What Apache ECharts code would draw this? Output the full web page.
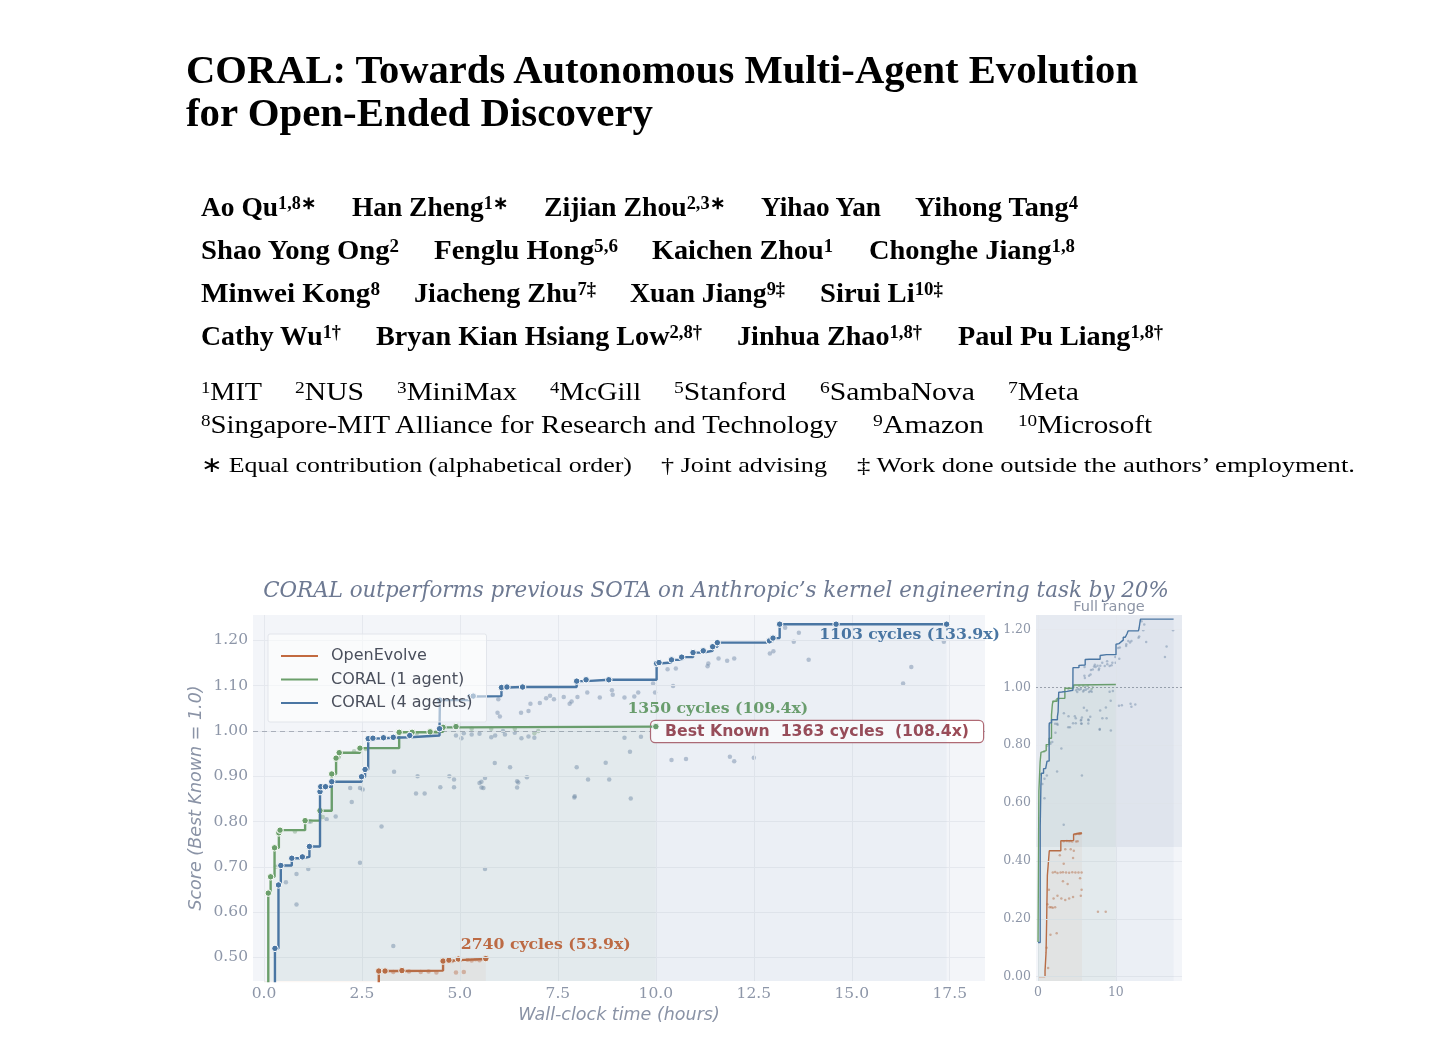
<!DOCTYPE html>
<html><head><meta charset="utf-8">
<script src="https://cdn.jsdelivr.net/npm/echarts@6/dist/echarts.min.js"></script>
<style>
html,body{margin:0;padding:0;background:#fff;width:1450px;height:1052px;overflow:hidden}
#chart{position:absolute;left:0;top:0;width:1450px;height:1052px}
#hdr{position:absolute;left:0;top:0;width:1450px;height:500px;z-index:2;pointer-events:none;font-family:"Liberation Serif","Times New Roman",serif;color:#000}
.t{position:absolute;white-space:nowrap;line-height:1;transform-origin:0 0}
.t sup{font-size:0.66em;vertical-align:0.42em;line-height:0}
</style></head>
<body>
<div id="chart"></div>
<div id="hdr"></div>
<script>
// ---------------- chart data ----------------
const chartTitle = 'CORAL outperforms previous SOTA on Anthropic\u2019s kernel engineering task by 20%';
const insetTitle = 'Full range';
const xAxisTitle = 'Wall-clock time (hours)';
const yAxisTitle = 'Score (Best Known = 1.0)';
const seriesNames = ['OpenEvolve', 'CORAL (1 agent)', 'CORAL (4 agents)'];
const xTicksMain = [0, 2.5, 5, 7.5, 10, 12.5, 15, 17.5];
const yTicksMain = [0.5, 0.6, 0.7, 0.8, 0.9, 1.0, 1.1, 1.2];
const xTicksInset = [0, 10];
const yTicksInset = [0, 0.2, 0.4, 0.6, 0.8, 1.0, 1.2];
const bestKnownScore = 1.0;
const bestKnownLabel = 'Best Known  1363 cycles  (108.4x)';
const finalLabels = ['2740 cycles (53.9x)', '1350 cycles (109.4x)', '1103 cycles (133.9x)'];

// best-so-far score [hours, score]
const openEvolveBest = [[0.00,0.000],[0.90,0.020],[1.03,0.083],[1.10,0.180],[1.20,0.350],[1.45,0.435],[2.93,0.470],[3.09,0.470],[3.52,0.471],[4.57,0.492],[4.72,0.494],[4.96,0.4965],[5.66,0.4974]];
const coral1Best = [[0.00,0.120],[0.11,0.642],[0.17,0.678],[0.27,0.742],[0.38,0.775],[0.41,0.781],[1.05,0.802],[1.43,0.824],[1.73,0.905],[1.84,0.940],[1.92,0.952],[2.45,0.962],[3.45,0.997],[3.78,0.997],[4.24,0.998],[4.57,1.008],[4.90,1.0096],[10.00,1.0096]];
const coral4Best = [[0.00,0.118],[0.28,0.520],[0.37,0.660],[0.43,0.703],[0.71,0.719],[0.98,0.722],[1.16,0.745],[1.43,0.866],[1.45,0.877],[1.57,0.877],[1.73,0.888],[2.49,0.899],[2.58,0.915],[2.66,0.983],[2.78,0.984],[3.05,0.985],[3.30,0.986],[3.72,0.990],[4.48,1.005],[4.49,1.068],[5.26,1.076],[5.34,1.077],[6.06,1.096],[6.20,1.097],[6.60,1.097],[7.98,1.110],[8.22,1.113],[8.80,1.113],[10.02,1.149],[10.08,1.151],[10.40,1.157],[10.66,1.163],[10.95,1.173],[11.21,1.177],[11.45,1.186],[11.57,1.195],[12.90,1.199],[12.99,1.205],[13.16,1.2357],[14.60,1.2357],[17.42,1.2357]];

// individual evaluations [hours, score]
const openEvolveEvals = [[1.1,0.10],[1.3,0.03],[1.2,0.25],[1.4,0.30],[1.5,0.24],[1.6,0.145],[1.7,0.24],[1.9,0.238],[1.9,0.36],[2.0,0.27],[2.2,0.24],[2.2,0.362],[2.4,0.15],[2.5,0.28],[2.5,0.358],[2.8,0.42],[2.9,0.36],[3.0,0.27],[3.2,0.33],[3.2,0.361],[3.3,0.39],[3.5,0.265],[3.5,0.44],[3.6,0.36],[3.8,0.32],[4.0,0.27],[4.0,0.359],[4.2,0.44],[4.4,0.361],[4.5,0.275],[4.5,0.41],[4.6,0.435],[4.8,0.36],[5.2,0.36],[5.4,0.34],[5.5,0.28],[5.6,0.30],[5.6,0.36],[7.7,0.224],[8.7,0.224],[3.3,0.468],[3.7,0.469],[4.0,0.468],[4.2,0.469],[4.4,0.467],[4.9,0.467],[5.1,0.468],[4.8,0.492],[5.0,0.494],[5.2,0.495],[5.3,0.493],[5.4,0.496],[5.5,0.494]];
const coral1Evals = [[0.3,0.700],[0.79,0.778],[1.2,0.800],[1.5,0.810],[1.95,0.950],[2.3,0.955],[2.6,0.960],[3.9,0.995],[4.4,0.998],[5.3,1.005],[5.8,1.005],[6.4,1.005],[7.0,1.000],[6.9,0.995]];
const coral4Evals = [[0.56,0.666],[0.83,0.684],[0.83,0.617],[1.13,0.695],[1.16,0.800],[1.6,0.805],[1.83,0.811],[2.24,0.843],[2.2,0.874],[2.45,0.874],[2.52,0.871],[2.45,0.709],[3.0,0.789],[3.30,0.525],[3.32,0.910],[3.88,0.862],[4.1,0.862],[3.92,0.900],[4.5,0.876],[4.73,0.900],[4.85,0.893],[4.85,0.876],[5.55,0.888],[5.55,0.875],[5.64,0.695],[5.64,0.896],[5.5,0.885],[5.6,0.874],[5.89,0.929],[6.28,0.920],[6.46,0.889],[6.46,0.875],[6.49,0.886],[6.71,0.898],[7.92,0.853],[7.93,0.856],[7.98,0.920],[8.27,0.893],[8.72,0.930],[8.81,0.893],[9.34,0.954],[9.36,0.851],[4.9,0.990],[5.04,0.984],[5.1,0.995],[5.3,0.992],[5.5,0.994],[5.8,0.986],[5.9,0.990],[6.1,1.000],[6.15,0.992],[6.4,0.996],[6.57,0.984],[6.75,0.988],[6.9,0.985],[9.2,0.985],[9.62,0.987],[5.96,1.040],[5.98,1.070],[6.02,1.032],[6.56,1.040],[6.75,1.044],[6.8,1.060],[7.04,1.062],[7.2,1.072],[7.3,1.078],[7.4,1.070],[7.65,1.075],[7.8,1.060],[7.85,1.065],[8.0,1.075],[8.25,1.085],[8.57,1.074],[8.88,1.090],[8.9,1.080],[9.2,1.074],[9.45,1.076],[9.55,1.085],[9.93,1.105],[9.98,1.085],[10.3,1.136],[10.4,0.936],[10.44,1.099],[10.51,1.138],[10.77,0.938],[11.32,1.143],[11.34,1.149],[11.6,1.160],[11.82,1.155],[11.89,0.943],[12.0,0.933],[12.0,1.160],[12.5,0.941],[12.91,1.171],[13.0,1.176],[13.3,1.228],[13.52,1.197],[13.65,1.217],[13.9,1.157],[16.31,1.105],[16.52,1.141],[17.35,1.197]];

// ---------------- header (paper front matter) ----------------
const headerItems = [
 ['CORAL: Towards Autonomous Multi-Agent Evolution',186,1138,83,39,true],
 ['for Open-Ended Discovery',186,653,125.5,39,true],
 ['Ao Qu<sup>1,8\u2217</sup>',201,316,217,27,true],
 ['Han Zheng<sup>1\u2217</sup>',352,508,217,27,true],
 ['Zijian Zhou<sup>2,3\u2217</sup>',544,725,217,27,true],
 ['Yihao Yan',761,881,217,27,true],
 ['Yihong Tang<sup>4</sup>',915,1078,217,27,true],
 ['Shao Yong Ong<sup>2</sup>',201,399,260,27,true],
 ['Fenglu Hong<sup>5,6</sup>',434,618,260,27,true],
 ['Kaichen Zhou<sup>1</sup>',652,833,260,27,true],
 ['Chonghe Jiang<sup>1,8</sup>',869,1075,260,27,true],
 ['Minwei Kong<sup>8</sup>',201,380,303,27,true],
 ['Jiacheng Zhu<sup>7\u2021</sup>',414,596,303,27,true],
 ['Xuan Jiang<sup>9\u2021</sup>',630,785,303,27,true],
 ['Sirui Li<sup>10\u2021</sup>',820,943,303,27,true],
 ['Cathy Wu<sup>1\u2020</sup>',201,341,346,27,true],
 ['Bryan Kian Hsiang Low<sup>2,8\u2020</sup>',376,702,346,27,true],
 ['Jinhua Zhao<sup>1,8\u2020</sup>',737,922,346,27,true],
 ['Paul Pu Liang<sup>1,8\u2020</sup>',958,1163,346,27,true],
 ['<sup>1</sup>MIT',201,262,400,25,false],
 ['<sup>2</sup>NUS',295,364,400,25,false],
 ['<sup>3</sup>MiniMax',397,517,400,25,false],
 ['<sup>4</sup>McGill',550,641,400,25,false],
 ['<sup>5</sup>Stanford',674,786,400,25,false],
 ['<sup>6</sup>SambaNova',820,975,400,25,false],
 ['<sup>7</sup>Meta',1008,1079,400,25,false],
 ['<sup>8</sup>Singapore-MIT Alliance for Research and Technology',201,838,433,25,false],
 ['<sup>9</sup>Amazon',873,984,433,25,false],
 ['<sup>10</sup>Microsoft',1018,1152,433,25,false],
 ['\u2217 Equal contribution (alphabetical order)',201,632,472.5,22,false],
 ['\u2020 Joint advising',661,827,472.5,22,false],
 ['\u2021 Work done outside the authors\u2019 employment.',857,1355,472.5,22,false]
];
const hdr = document.getElementById('hdr');
headerItems.forEach(([html, l, r, base, fs, bold]) => {
  const d = document.createElement('div');
  d.className = 't';
  d.innerHTML = html;
  d.style.fontSize = fs + 'px';
  d.style.fontWeight = bold ? 'bold' : 'normal';
  d.style.left = l + 'px';
  d.style.top = (base - 0.8375 * fs) + 'px';
  hdr.appendChild(d);
  const w = d.getBoundingClientRect().width;
  if (w > 0) d.style.transform = 'scaleX(' + ((r - l) / w) + ')';
});

// ---------------- chart ----------------
const colors = ['#c26a40', '#6b9f6b', '#4a76a3'];
const fills = ['rgba(192,101,60,0.08)', 'rgba(107,159,107,0.07)', 'rgba(74,118,163,0.06)'];
const evalColorsMain = ['rgba(200,110,70,0.55)', 'rgba(110,155,115,0.5)', 'rgba(105,130,162,0.55)'];
const evalColorsInset = ['rgba(190,105,65,0.6)', 'rgba(110,155,115,0.55)', 'rgba(105,130,162,0.55)'];
const bestData = [openEvolveBest, coral1Best, coral4Best];
const evalData = [openEvolveEvals, coral1Evals, coral4Evals];
const labelOffsets = [[60, -14], [62, -18], [-37, 11]];
const gridColor = '#e5e8ee';
const tickColor = '#8d96a8';

const chart = echarts.init(document.getElementById('chart'), null, {renderer: 'canvas'});

function axisCommon(min, max, ticks, fmt, fs) {
  return {
    type: 'value', min: min, max: max,
    axisLine: {show: false}, axisTick: {show: false}, splitLine: {show: false},
    axisLabel: {customValues: ticks, formatter: fmt, color: tickColor, fontFamily: 'DejaVu Serif', fontSize: fs, margin: 5, hideOverlap: false}
  };
}

const series = [];
// evaluation scatter (main + inset)
[0, 1, 2].forEach(i => {
  series.push({
    type: 'scatter', name: 'evals-main-' + i, data: evalData[i], xAxisIndex: 0, yAxisIndex: 0,
    symbolSize: 4.5, itemStyle: {color: evalColorsMain[i]}, z: 2, silent: true, clip: true
  });
  series.push({
    type: 'scatter', name: 'evals-inset-' + i, data: evalData[i], xAxisIndex: 1, yAxisIndex: 1,
    symbolSize: 2.5, itemStyle: {color: evalColorsInset[i]}, z: 2, silent: true, clip: true
  });
});
// grid lines + best known line (main)
series[0].markLine = {
  silent: true, symbol: ['none', 'none'], animation: false, label: {show: false},
  lineStyle: {color: gridColor, width: 1, type: 'solid'},
  data: xTicksMain.map(v => ({xAxis: v})).concat(yTicksMain.map(v => ({yAxis: v}))).concat([{
    yAxis: bestKnownScore,
    lineStyle: {color: '#a9afba', type: [5, 4], width: 1},
    label: {show: true, position: 'insideEndTop', formatter: bestKnownLabel, color: '#9b4c57',
      fontFamily: 'DejaVu Sans', fontWeight: 'bold', fontSize: 15.7, backgroundColor: '#ffffff',
      borderColor: '#b06a74', borderWidth: 1.2, borderRadius: 4, padding: [3, 14, 2, 14], distance: [2, -11]}
  }])
};
// grid lines, dotted best-known, zoom window (inset)
series[1].markLine = {
  silent: true, symbol: ['none', 'none'], animation: false, label: {show: false},
  lineStyle: {color: gridColor, width: 1, type: 'solid'},
  data: xTicksInset.map(v => ({xAxis: v})).concat(yTicksInset.map(v => ({yAxis: v}))).concat([{
    yAxis: bestKnownScore, lineStyle: {color: '#9aa1ad', type: [2, 2], width: 1}
  }])
};
series[1].markArea = {
  silent: true, animation: false,
  itemStyle: {color: 'rgba(70,100,140,0.07)'},
  data: [[{yAxis: 0.448}, {yAxis: 1.256}]]
};
// best-so-far step lines
[0, 1, 2].forEach(i => {
  const d = bestData[i];
  series.push({
    type: 'line', name: seriesNames[i], data: d, step: 'end', xAxisIndex: 0, yAxisIndex: 0,
    lineStyle: {color: colors[i], width: 2.4}, itemStyle: {color: colors[i], borderColor: '#ffffff', borderWidth: 1},
    symbol: 'circle', symbolSize: 6.5, showSymbol: true, showAllSymbol: true,
    areaStyle: {color: fills[i], origin: 'start'}, z: 4 + i, silent: true, clip: true,
    markPoint: {
      silent: true, animation: false, symbol: 'circle', symbolSize: 1, itemStyle: {color: 'rgba(0,0,0,0)'},
      data: [{coord: d[d.length - 1], label: {show: true, position: 'inside', formatter: finalLabels[i],
        offset: labelOffsets[i], color: colors[i], fontFamily: 'DejaVu Serif', fontWeight: 'bold', fontSize: 15.7}}]
    }
  });
  series.push({
    type: 'line', name: seriesNames[i], data: d, step: 'end', xAxisIndex: 1, yAxisIndex: 1,
    lineStyle: {color: colors[i], width: 1.4}, showSymbol: false, symbol: 'none',
    areaStyle: {color: fills[i], origin: 'start'}, z: 4 + i, silent: true, clip: true
  });
});

const option = {
  animation: false,
  backgroundColor: 'transparent',
  title: [
    {text: chartTitle, left: 716, top: 581, textAlign: 'center', padding: 0,
      textStyle: {fontFamily: 'DejaVu Serif', fontStyle: 'italic', fontWeight: 'normal', fontSize: 21.4, color: '#6d7992'}},
    {text: insetTitle, left: 1109, top: 600, textAlign: 'center', padding: 0,
      textStyle: {fontFamily: 'DejaVu Sans', fontWeight: 'normal', fontSize: 14.5, color: '#8d95a6'}}
  ],
  legend: {
    show: true, orient: 'vertical', left: 268, top: 634, selectedMode: false,
    data: seriesNames.map(n => ({name: n, icon: 'rect'})),
    itemWidth: 37, itemHeight: 2, itemGap: 5.5, padding: [13, 14, 10, 13],
    itemStyle: {borderWidth: 0},
    backgroundColor: 'rgba(255,255,255,0.55)', borderColor: '#e2e5eb', borderWidth: 1, borderRadius: 2,
    textStyle: {fontFamily: 'DejaVu Sans', fontSize: 16, color: '#4a4f5c', lineHeight: 18, padding: [0, 0, 0, 8]},
    z: 10
  },
  grid: [
    {left: 253, top: 615, width: 732, height: 366, show: true, backgroundColor: '#f3f5f9', borderWidth: 0, containLabel: false, outerBoundsMode: 'none'},
    {left: 1036, top: 615, width: 146, height: 366, show: true, backgroundColor: '#f3f5f9', borderWidth: 0, containLabel: false, outerBoundsMode: 'none'}
  ],
  xAxis: [
    Object.assign(axisCommon(-0.28, 18.4, xTicksMain, v => v.toFixed(1), 15.5), {gridIndex: 0,
      name: xAxisTitle, nameLocation: 'middle', nameGap: 25,
      nameTextStyle: {fontFamily: 'DejaVu Sans', fontStyle: 'italic', fontSize: 17.5, color: '#8a93a6'}}),
    Object.assign(axisCommon(-0.26, 18.5, xTicksInset, v => String(v), 12.5), {gridIndex: 1})
  ],
  yAxis: [
    Object.assign(axisCommon(0.448, 1.256, yTicksMain, v => v.toFixed(2), 15.5), {gridIndex: 0,
      name: yAxisTitle, nameLocation: 'middle', nameGap: 48, nameRotate: 90, nameMoveOverlap: false,
      nameTextStyle: {fontFamily: 'DejaVu Sans', fontStyle: 'italic', fontSize: 17.5, color: '#8a93a6'}}),
    Object.assign(axisCommon(-0.015, 1.25, yTicksInset, v => v.toFixed(2), 12.5), {gridIndex: 1})
  ],
  series: series
};
chart.setOption(option);
</script>
</body></html>
